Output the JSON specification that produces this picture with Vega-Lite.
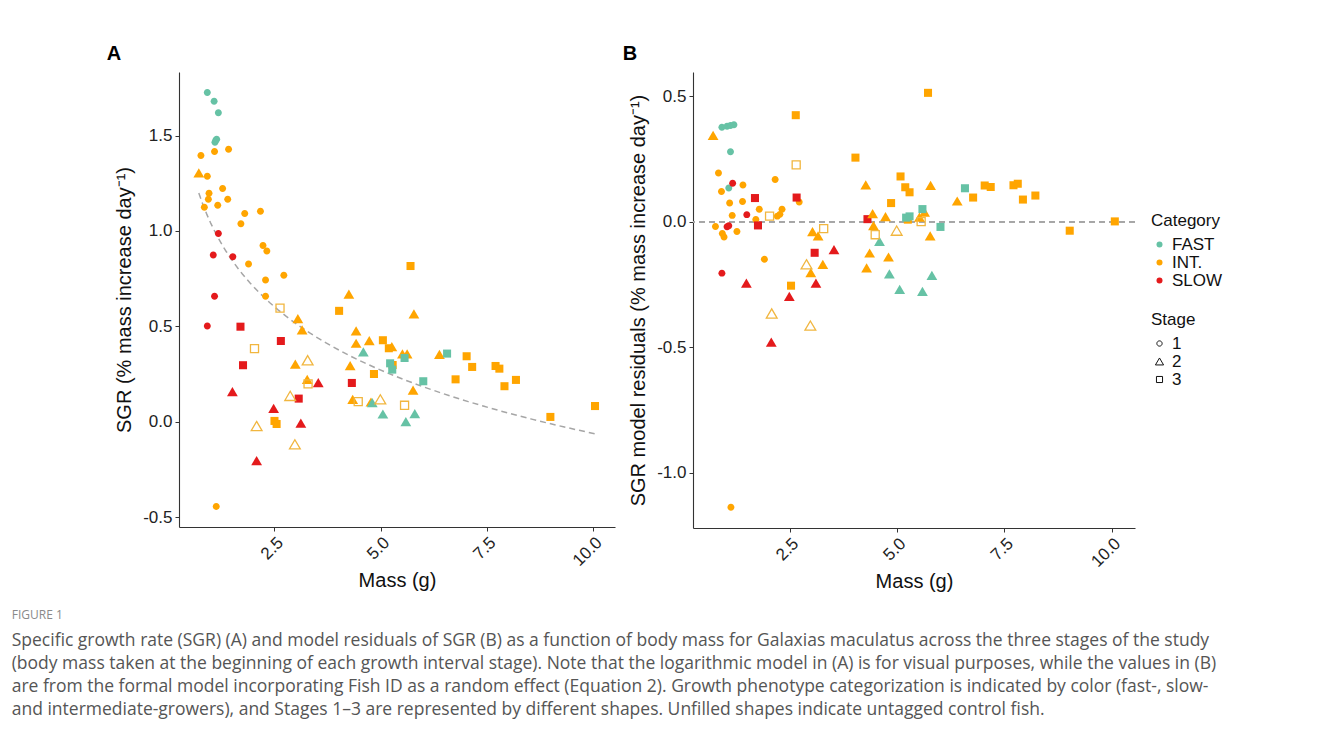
{
  "$schema": "https://vega.github.io/schema/vega-lite/v6.json",
  "background": "white",
  "padding": {"left": 11, "top": 44, "right": 5, "bottom": 5},
  "config": {
    "font": "Liberation Sans",
    "view": {"stroke": null},
    "axis": {"grid": false, "domainColor": "#333333", "domainWidth": 1.1, "tickColor": "#333333", "tickSize": 4, "labelColor": "#222222", "labelFontSize": 17, "labelPadding": 3, "titleFontSize": 20, "titleFontWeight": "normal", "titleColor": "#111111"},
    "legend": {"titleFontSize": 17, "titleFontWeight": "normal", "titleColor": "#111111", "labelFontSize": 17, "labelColor": "#111111", "rowPadding": 0, "symbolSize": 36, "titlePadding": 6}
  },
  "datasets": {
    "A": [
      {"m": 0.92, "v": 1.725, "c": "FAST", "s": "1", "u": 0},
      {"m": 1.08, "v": 1.68, "c": "FAST", "s": "1", "u": 0},
      {"m": 1.18, "v": 1.62, "c": "FAST", "s": "1", "u": 0},
      {"m": 1.14, "v": 1.48, "c": "FAST", "s": "1", "u": 0},
      {"m": 1.10, "v": 1.465, "c": "FAST", "s": "1", "u": 0},
      {"m": 1.12, "v": 1.475, "c": "FAST", "s": "1", "u": 0},
      {"m": 0.77, "v": 1.395, "c": "INT.", "s": "1", "u": 0},
      {"m": 1.09, "v": 1.416, "c": "INT.", "s": "1", "u": 0},
      {"m": 1.42, "v": 1.428, "c": "INT.", "s": "1", "u": 0},
      {"m": 0.92, "v": 1.287, "c": "INT.", "s": "1", "u": 0},
      {"m": 1.28, "v": 1.222, "c": "INT.", "s": "1", "u": 0},
      {"m": 0.96, "v": 1.198, "c": "INT.", "s": "1", "u": 0},
      {"m": 1.40, "v": 1.166, "c": "INT.", "s": "1", "u": 0},
      {"m": 0.945, "v": 1.166, "c": "INT.", "s": "1", "u": 0},
      {"m": 0.85, "v": 1.124, "c": "INT.", "s": "1", "u": 0},
      {"m": 1.165, "v": 1.135, "c": "INT.", "s": "1", "u": 0},
      {"m": 1.80, "v": 1.091, "c": "INT.", "s": "1", "u": 0},
      {"m": 2.17, "v": 1.103, "c": "INT.", "s": "1", "u": 0},
      {"m": 1.71, "v": 1.037, "c": "INT.", "s": "1", "u": 0},
      {"m": 2.23, "v": 0.923, "c": "INT.", "s": "1", "u": 0},
      {"m": 2.32, "v": 0.895, "c": "INT.", "s": "1", "u": 0},
      {"m": 1.89, "v": 0.827, "c": "INT.", "s": "1", "u": 0},
      {"m": 2.72, "v": 0.768, "c": "INT.", "s": "1", "u": 0},
      {"m": 2.29, "v": 0.743, "c": "INT.", "s": "1", "u": 0},
      {"m": 2.29, "v": 0.657, "c": "INT.", "s": "1", "u": 0},
      {"m": 1.13, "v": -0.444, "c": "INT.", "s": "1", "u": 0},
      {"m": 1.18, "v": 0.986, "c": "SLOW", "s": "1", "u": 0},
      {"m": 1.06, "v": 0.874, "c": "SLOW", "s": "1", "u": 0},
      {"m": 1.52, "v": 0.865, "c": "SLOW", "s": "1", "u": 0},
      {"m": 1.09, "v": 0.657, "c": "SLOW", "s": "1", "u": 0},
      {"m": 0.92, "v": 0.502, "c": "SLOW", "s": "1", "u": 0},
      {"m": 1.70, "v": 0.498, "c": "SLOW", "s": "3", "u": 0},
      {"m": 2.65, "v": 0.423, "c": "SLOW", "s": "3", "u": 0},
      {"m": 1.76, "v": 0.296, "c": "SLOW", "s": "3", "u": 0},
      {"m": 3.07, "v": 0.121, "c": "SLOW", "s": "3", "u": 0},
      {"m": 4.32, "v": 0.203, "c": "SLOW", "s": "3", "u": 0},
      {"m": 1.51, "v": 0.157, "c": "SLOW", "s": "2", "u": 0},
      {"m": 2.48, "v": 0.070, "c": "SLOW", "s": "2", "u": 0},
      {"m": 3.12, "v": -0.008, "c": "SLOW", "s": "2", "u": 0},
      {"m": 2.08, "v": -0.204, "c": "SLOW", "s": "2", "u": 0},
      {"m": 3.53, "v": 0.205, "c": "SLOW", "s": "2", "u": 0},
      {"m": 2.63, "v": 0.595, "c": "INT.", "s": "3", "u": 1},
      {"m": 2.03, "v": 0.383, "c": "INT.", "s": "3", "u": 1},
      {"m": 3.29, "v": 0.198, "c": "INT.", "s": "3", "u": 1},
      {"m": 4.47, "v": 0.105, "c": "INT.", "s": "3", "u": 1},
      {"m": 5.56, "v": 0.086, "c": "INT.", "s": "3", "u": 1},
      {"m": 3.28, "v": 0.322, "c": "INT.", "s": "2", "u": 1},
      {"m": 2.87, "v": 0.135, "c": "INT.", "s": "2", "u": 1},
      {"m": 2.08, "v": -0.023, "c": "INT.", "s": "2", "u": 1},
      {"m": 2.98, "v": -0.119, "c": "INT.", "s": "2", "u": 1},
      {"m": 4.99, "v": 0.117, "c": "INT.", "s": "2", "u": 1},
      {"m": 4.02, "v": 0.581, "c": "INT.", "s": "3", "u": 0},
      {"m": 2.50, "v": 0.004, "c": "INT.", "s": "3", "u": 0},
      {"m": 2.55, "v": -0.012, "c": "INT.", "s": "3", "u": 0},
      {"m": 5.70, "v": 0.816, "c": "INT.", "s": "3", "u": 0},
      {"m": 5.05, "v": 0.427, "c": "INT.", "s": "3", "u": 0},
      {"m": 5.19, "v": 0.385, "c": "INT.", "s": "3", "u": 0},
      {"m": 5.28, "v": 0.297, "c": "INT.", "s": "3", "u": 0},
      {"m": 7.02, "v": 0.343, "c": "INT.", "s": "3", "u": 0},
      {"m": 7.15, "v": 0.287, "c": "INT.", "s": "3", "u": 0},
      {"m": 7.70, "v": 0.292, "c": "INT.", "s": "3", "u": 0},
      {"m": 7.79, "v": 0.278, "c": "INT.", "s": "3", "u": 0},
      {"m": 6.76, "v": 0.222, "c": "INT.", "s": "3", "u": 0},
      {"m": 8.18, "v": 0.219, "c": "INT.", "s": "3", "u": 0},
      {"m": 7.91, "v": 0.186, "c": "INT.", "s": "3", "u": 0},
      {"m": 4.84, "v": 0.250, "c": "INT.", "s": "3", "u": 0},
      {"m": 8.99, "v": 0.025, "c": "INT.", "s": "3", "u": 0},
      {"m": 10.04, "v": 0.082, "c": "INT.", "s": "3", "u": 0},
      {"m": 0.72, "v": 1.304, "c": "INT.", "s": "2", "u": 0},
      {"m": 3.05, "v": 0.540, "c": "INT.", "s": "2", "u": 0},
      {"m": 3.15, "v": 0.481, "c": "INT.", "s": "2", "u": 0},
      {"m": 2.99, "v": 0.302, "c": "INT.", "s": "2", "u": 0},
      {"m": 3.27, "v": 0.222, "c": "INT.", "s": "2", "u": 0},
      {"m": 4.42, "v": 0.476, "c": "INT.", "s": "2", "u": 0},
      {"m": 4.42, "v": 0.411, "c": "INT.", "s": "2", "u": 0},
      {"m": 4.28, "v": 0.294, "c": "INT.", "s": "2", "u": 0},
      {"m": 4.34, "v": 0.117, "c": "INT.", "s": "2", "u": 0},
      {"m": 4.25, "v": 0.668, "c": "INT.", "s": "2", "u": 0},
      {"m": 5.78, "v": 0.565, "c": "INT.", "s": "2", "u": 0},
      {"m": 4.73, "v": 0.425, "c": "INT.", "s": "2", "u": 0},
      {"m": 5.26, "v": 0.393, "c": "INT.", "s": "2", "u": 0},
      {"m": 5.51, "v": 0.355, "c": "INT.", "s": "2", "u": 0},
      {"m": 5.62, "v": 0.355, "c": "INT.", "s": "2", "u": 0},
      {"m": 6.38, "v": 0.353, "c": "INT.", "s": "2", "u": 0},
      {"m": 5.76, "v": 0.165, "c": "INT.", "s": "2", "u": 0},
      {"m": 4.77, "v": 0.103, "c": "INT.", "s": "2", "u": 0},
      {"m": 5.56, "v": 0.334, "c": "FAST", "s": "3", "u": 0},
      {"m": 5.22, "v": 0.306, "c": "FAST", "s": "3", "u": 0},
      {"m": 5.27, "v": 0.273, "c": "FAST", "s": "3", "u": 0},
      {"m": 6.56, "v": 0.357, "c": "FAST", "s": "3", "u": 0},
      {"m": 6.00, "v": 0.212, "c": "FAST", "s": "3", "u": 0},
      {"m": 4.59, "v": 0.366, "c": "FAST", "s": "2", "u": 0},
      {"m": 4.80, "v": 0.100, "c": "FAST", "s": "2", "u": 0},
      {"m": 5.05, "v": 0.040, "c": "FAST", "s": "2", "u": 0},
      {"m": 5.59, "v": 0.0, "c": "FAST", "s": "2", "u": 0},
      {"m": 5.80, "v": 0.042, "c": "FAST", "s": "2", "u": 0}
    ],
    "B": [
      {"m": 0.92, "v": 0.376, "c": "FAST", "s": "1", "u": 0},
      {"m": 1.04, "v": 0.380, "c": "FAST", "s": "1", "u": 0},
      {"m": 1.12, "v": 0.383, "c": "FAST", "s": "1", "u": 0},
      {"m": 1.20, "v": 0.386, "c": "FAST", "s": "1", "u": 0},
      {"m": 1.12, "v": 0.278, "c": "FAST", "s": "1", "u": 0},
      {"m": 1.08, "v": 0.134, "c": "FAST", "s": "1", "u": 0},
      {"m": 0.84, "v": 0.194, "c": "INT.", "s": "1", "u": 0},
      {"m": 0.91, "v": 0.120, "c": "INT.", "s": "1", "u": 0},
      {"m": 1.10, "v": 0.074, "c": "INT.", "s": "1", "u": 0},
      {"m": 1.16, "v": 0.025, "c": "INT.", "s": "1", "u": 0},
      {"m": 1.40, "v": 0.080, "c": "INT.", "s": "1", "u": 0},
      {"m": 1.41, "v": 0.146, "c": "INT.", "s": "1", "u": 0},
      {"m": 1.71, "v": 0.009, "c": "INT.", "s": "1", "u": 0},
      {"m": 1.79, "v": 0.049, "c": "INT.", "s": "1", "u": 0},
      {"m": 2.16, "v": 0.168, "c": "INT.", "s": "1", "u": 0},
      {"m": 2.32, "v": 0.049, "c": "INT.", "s": "1", "u": 0},
      {"m": 2.27, "v": 0.029, "c": "INT.", "s": "1", "u": 0},
      {"m": 2.21, "v": 0.022, "c": "INT.", "s": "1", "u": 0},
      {"m": 2.72, "v": 0.078, "c": "INT.", "s": "1", "u": 0},
      {"m": 1.91, "v": -0.150, "c": "INT.", "s": "1", "u": 0},
      {"m": 0.77, "v": -0.019, "c": "INT.", "s": "1", "u": 0},
      {"m": 0.93, "v": -0.047, "c": "INT.", "s": "1", "u": 0},
      {"m": 0.97, "v": -0.061, "c": "INT.", "s": "1", "u": 0},
      {"m": 1.27, "v": -0.039, "c": "INT.", "s": "1", "u": 0},
      {"m": 1.13, "v": -1.137, "c": "INT.", "s": "1", "u": 0},
      {"m": 1.17, "v": 0.153, "c": "SLOW", "s": "1", "u": 0},
      {"m": 1.50, "v": 0.028, "c": "SLOW", "s": "1", "u": 0},
      {"m": 1.04, "v": -0.020, "c": "SLOW", "s": "1", "u": 0},
      {"m": 1.08, "v": -0.016, "c": "SLOW", "s": "1", "u": 0},
      {"m": 0.92, "v": -0.205, "c": "SLOW", "s": "1", "u": 0},
      {"m": 1.69, "v": 0.094, "c": "SLOW", "s": "3", "u": 0},
      {"m": 1.76, "v": -0.015, "c": "SLOW", "s": "3", "u": 0},
      {"m": 2.66, "v": 0.096, "c": "SLOW", "s": "3", "u": 0},
      {"m": 3.08, "v": -0.124, "c": "SLOW", "s": "3", "u": 0},
      {"m": 4.31, "v": 0.010, "c": "SLOW", "s": "3", "u": 0},
      {"m": 1.49, "v": -0.245, "c": "SLOW", "s": "2", "u": 0},
      {"m": 2.49, "v": -0.298, "c": "SLOW", "s": "2", "u": 0},
      {"m": 3.11, "v": -0.245, "c": "SLOW", "s": "2", "u": 0},
      {"m": 3.53, "v": -0.112, "c": "SLOW", "s": "2", "u": 0},
      {"m": 2.07, "v": -0.480, "c": "SLOW", "s": "2", "u": 0},
      {"m": 2.03, "v": 0.022, "c": "INT.", "s": "3", "u": 1},
      {"m": 2.65, "v": 0.226, "c": "INT.", "s": "3", "u": 1},
      {"m": 3.29, "v": -0.028, "c": "INT.", "s": "3", "u": 1},
      {"m": 4.49, "v": -0.052, "c": "INT.", "s": "3", "u": 1},
      {"m": 5.56, "v": 0.0, "c": "INT.", "s": "3", "u": 1},
      {"m": 2.89, "v": -0.170, "c": "INT.", "s": "2", "u": 1},
      {"m": 2.08, "v": -0.366, "c": "INT.", "s": "2", "u": 1},
      {"m": 2.98, "v": -0.414, "c": "INT.", "s": "2", "u": 1},
      {"m": 4.99, "v": -0.036, "c": "INT.", "s": "2", "u": 1},
      {"m": 2.64, "v": 0.424, "c": "INT.", "s": "3", "u": 0},
      {"m": 4.03, "v": 0.255, "c": "INT.", "s": "3", "u": 0},
      {"m": 2.53, "v": -0.255, "c": "INT.", "s": "3", "u": 0},
      {"m": 5.72, "v": 0.513, "c": "INT.", "s": "3", "u": 0},
      {"m": 5.08, "v": 0.180, "c": "INT.", "s": "3", "u": 0},
      {"m": 5.19, "v": 0.137, "c": "INT.", "s": "3", "u": 0},
      {"m": 5.29, "v": 0.117, "c": "INT.", "s": "3", "u": 0},
      {"m": 4.86, "v": 0.074, "c": "INT.", "s": "3", "u": 0},
      {"m": 7.04, "v": 0.144, "c": "INT.", "s": "3", "u": 0},
      {"m": 7.18, "v": 0.138, "c": "INT.", "s": "3", "u": 0},
      {"m": 7.71, "v": 0.145, "c": "INT.", "s": "3", "u": 0},
      {"m": 7.81, "v": 0.151, "c": "INT.", "s": "3", "u": 0},
      {"m": 6.77, "v": 0.096, "c": "INT.", "s": "3", "u": 0},
      {"m": 7.93, "v": 0.088, "c": "INT.", "s": "3", "u": 0},
      {"m": 8.22, "v": 0.104, "c": "INT.", "s": "3", "u": 0},
      {"m": 9.02, "v": -0.036, "c": "INT.", "s": "3", "u": 0},
      {"m": 10.07, "v": 0.001, "c": "INT.", "s": "3", "u": 0},
      {"m": 5.25, "v": 0.008, "c": "INT.", "s": "3", "u": 0},
      {"m": 0.715, "v": 0.343, "c": "INT.", "s": "2", "u": 0},
      {"m": 3.03, "v": -0.040, "c": "INT.", "s": "2", "u": 0},
      {"m": 3.16, "v": -0.057, "c": "INT.", "s": "2", "u": 0},
      {"m": 2.99, "v": -0.203, "c": "INT.", "s": "2", "u": 0},
      {"m": 3.27, "v": -0.170, "c": "INT.", "s": "2", "u": 0},
      {"m": 4.27, "v": 0.146, "c": "INT.", "s": "2", "u": 0},
      {"m": 4.43, "v": 0.032, "c": "INT.", "s": "2", "u": 0},
      {"m": 4.45, "v": -0.016, "c": "INT.", "s": "2", "u": 0},
      {"m": 4.36, "v": -0.125, "c": "INT.", "s": "2", "u": 0},
      {"m": 4.29, "v": -0.184, "c": "INT.", "s": "2", "u": 0},
      {"m": 5.78, "v": 0.144, "c": "INT.", "s": "2", "u": 0},
      {"m": 6.40, "v": 0.082, "c": "INT.", "s": "2", "u": 0},
      {"m": 4.73, "v": 0.020, "c": "INT.", "s": "2", "u": 0},
      {"m": 5.52, "v": 0.018, "c": "INT.", "s": "2", "u": 0},
      {"m": 5.64, "v": 0.038, "c": "INT.", "s": "2", "u": 0},
      {"m": 5.77, "v": -0.057, "c": "INT.", "s": "2", "u": 0},
      {"m": 4.80, "v": -0.141, "c": "INT.", "s": "2", "u": 0},
      {"m": 6.58, "v": 0.133, "c": "FAST", "s": "3", "u": 0},
      {"m": 5.59, "v": 0.050, "c": "FAST", "s": "3", "u": 0},
      {"m": 5.29, "v": 0.021, "c": "FAST", "s": "3", "u": 0},
      {"m": 5.21, "v": 0.016, "c": "FAST", "s": "3", "u": 0},
      {"m": 6.01, "v": -0.021, "c": "FAST", "s": "3", "u": 0},
      {"m": 4.59, "v": -0.079, "c": "FAST", "s": "2", "u": 0},
      {"m": 4.82, "v": -0.208, "c": "FAST", "s": "2", "u": 0},
      {"m": 5.81, "v": -0.214, "c": "FAST", "s": "2", "u": 0},
      {"m": 5.06, "v": -0.270, "c": "FAST", "s": "2", "u": 0},
      {"m": 5.59, "v": -0.278, "c": "FAST", "s": "2", "u": 0}
    ]
  },
  "title": {
    "text": "FIGURE 1",
    "subtitle": [
      "Specific growth rate (SGR) (A) and model residuals of SGR (B) as a function of body mass for Galaxias maculatus across the three stages of the study",
      "(body mass taken at the beginning of each growth interval stage). Note that the logarithmic model in (A) is for visual purposes, while the values in (B)",
      "are from the formal model incorporating Fish ID as a random effect (Equation 2). Growth phenotype categorization is indicated by color (fast-, slow-",
      "and intermediate-growers), and Stages 1–3 are represented by different shapes. Unfilled shapes indicate untagged control fish."
    ],
    "orient": "bottom",
    "anchor": "start",
    "frame": "bounds",
    "font": "Open Sans",
    "fontSize": 12,
    "fontWeight": "normal",
    "color": "#8a8a8a",
    "subtitleFont": "Open Sans",
    "subtitleFontSize": 17.5,
    "subtitleColor": "#555555",
    "subtitleLineHeight": 23,
    "subtitlePadding": 10,
    "offset": 18,
    "dx": -95
  },
  "spacing": 7,
  "resolve": {"scale": {"color": "shared", "shape": "shared", "x": "independent", "y": "independent"}},
  "hconcat": [
    {
      "width": 436,
      "height": 455,
      "title": {"text": "A", "anchor": "start", "frame": "bounds", "fontSize": 20, "fontWeight": "bold", "color": "#000000", "offset": 8, "dx": -8},
      "data": {"name": "A"},
      "encoding": {
        "x": {"field": "m", "type": "quantitative", "scale": {"domain": [0.254, 10.51], "nice": false, "zero": false}, "axis": {"title": "Mass (g)", "values": [2.5, 5, 7.5, 10], "format": ".1f", "labelAngle": -45, "labelAlign": "right", "labelBaseline": "top", "titlePadding": 2}},
        "y": {"field": "v", "type": "quantitative", "scale": {"domain": [-0.552, 1.833], "nice": false, "zero": false}, "axis": {"title": "SGR (% mass increase day⁻¹)", "values": [-0.5, 0, 0.5, 1, 1.5], "labelExpr": "replace(format(datum.value, '.1f'), '−', '-')", "titlePadding": 8}}
      },
      "layer": [
        {
          "transform": [{"regression": "v", "on": "m", "method": "log"}],
          "mark": {"type": "line", "color": "#a6a6a6", "strokeDash": [6, 4], "strokeWidth": 1.5}
        },
        {
          "transform": [{"filter": "datum.u == 0"}],
          "mark": {"type": "point", "filled": true, "opacity": 1, "size": 112},
          "encoding": {
            "color": {"field": "c", "type": "nominal", "title": "Category", "scale": {"domain": ["FAST", "INT.", "SLOW"], "range": ["#66C2A5", "#FFA500", "#E41A1C"]}, "legend": {"orient": "none", "legendX": 972, "legendY": 141, "symbolType": "circle", "symbolSize": 36}},
            "shape": {"field": "s", "type": "nominal", "title": "Stage", "scale": {"domain": ["1", "2", "3"], "range": ["M0.66,0A0.66,0.66 0 1,1 -0.66,0A0.66,0.66 0 1,1 0.66,0Z", "M0,-0.88L1.02,0.86L-1.02,0.86Z", "M-0.76,-0.76L0.76,-0.76L0.76,0.76L-0.76,0.76Z"]}, "legend": {"orient": "none", "legendX": 972, "legendY": 240, "symbolSize": 64, "symbolFillColor": "transparent", "symbolStrokeColor": "#111111", "symbolStrokeWidth": 1}}
          }
        },
        {
          "transform": [{"filter": "datum.u == 1"}],
          "mark": {"type": "point", "filled": false, "opacity": 1, "size": 112, "color": "#F1B63F", "strokeWidth": 1.3},
          "encoding": {
            "shape": {"field": "s", "type": "nominal"}
          }
        }
      ]
    },
    {
      "width": 442,
      "height": 456,
      "title": {"text": "B", "anchor": "start", "frame": "bounds", "fontSize": 20, "fontWeight": "bold", "color": "#000000", "offset": 8, "dx": -6},
      "data": {"name": "B"},
      "encoding": {
        "x": {"field": "m", "type": "quantitative", "scale": {"domain": [0.247, 10.54], "nice": false, "zero": false}, "axis": {"title": "Mass (g)", "values": [2.5, 5, 7.5, 10], "format": ".1f", "labelAngle": -45, "labelAlign": "right", "labelBaseline": "top", "titlePadding": 2}},
        "y": {"field": "v", "type": "quantitative", "scale": {"domain": [-1.22, 0.596], "nice": false, "zero": false}, "axis": {"title": "SGR model residuals (% mass increase day⁻¹)", "values": [-1, -0.5, 0, 0.5], "labelExpr": "replace(format(datum.value, '.1f'), '−', '-')", "titlePadding": 8}}
      },
      "layer": [
        {
          "mark": {"type": "rule", "color": "#a6a6a6", "strokeDash": [6, 4], "strokeWidth": 1.4},
          "encoding": {"x": null, "y": {"datum": 0}}
        },
        {
          "transform": [{"filter": "datum.u == 0"}],
          "mark": {"type": "point", "filled": true, "opacity": 1, "size": 112},
          "encoding": {
            "color": {"field": "c", "type": "nominal"},
            "shape": {"field": "s", "type": "nominal"}
          }
        },
        {
          "transform": [{"filter": "datum.u == 1"}],
          "mark": {"type": "point", "filled": false, "opacity": 1, "size": 112, "color": "#F1B63F", "strokeWidth": 1.3},
          "encoding": {
            "shape": {"field": "s", "type": "nominal"}
          }
        }
      ]
    }
  ]
}
